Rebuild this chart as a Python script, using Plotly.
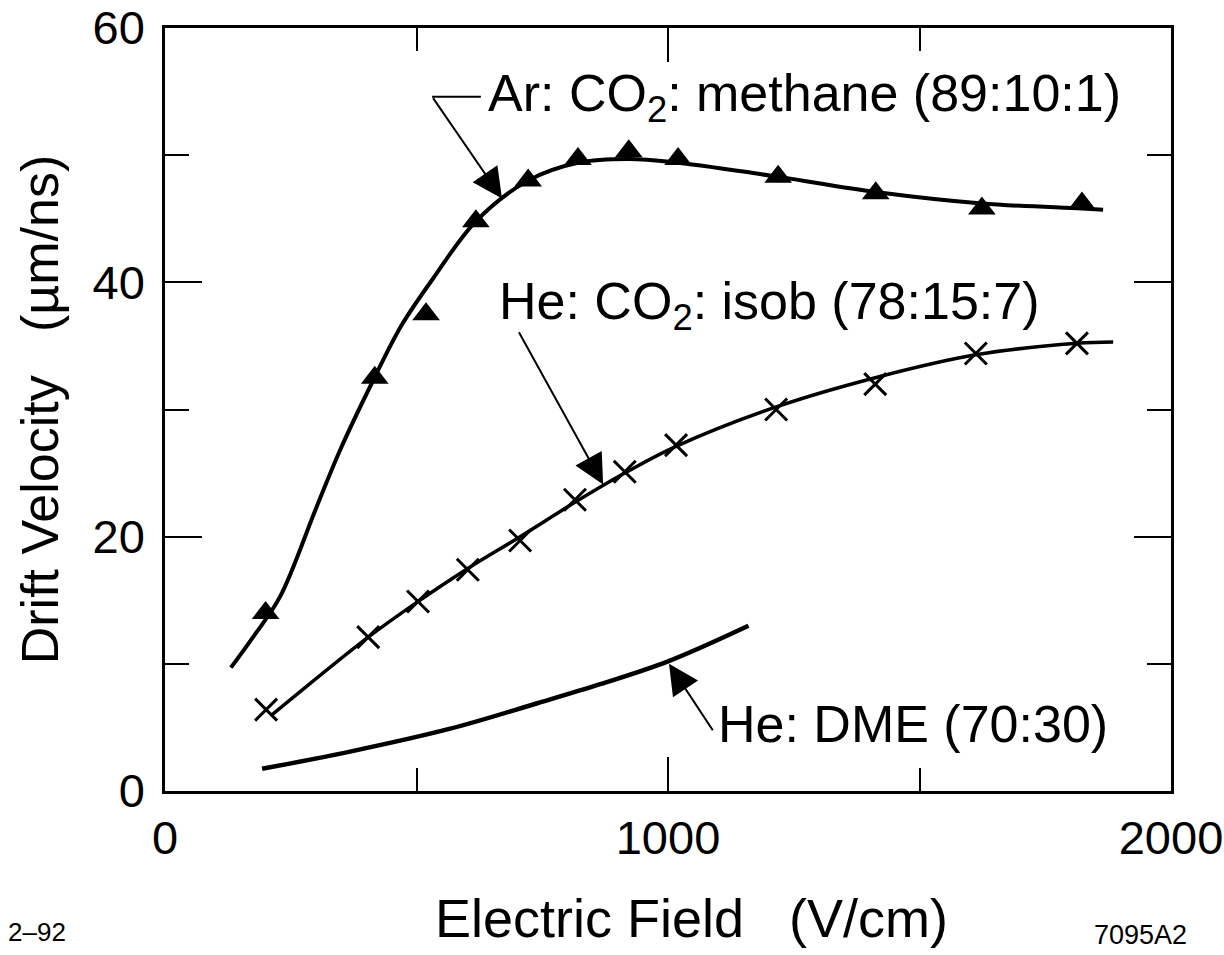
import plotly.graph_objects as go

# Ar:CO2:methane (89:10:1) — smooth curve and measured points
ar_curve_x = [131, 175, 229, 300, 348, 414, 470, 533, 618, 722, 821, 922, 1020, 1219, 1413, 1624, 1823, 1865]
ar_curve_y = [9.7, 12.1, 15.3, 22.2, 26.8, 32.3, 36.6, 40.3, 44.8, 48.0, 49.4, 49.7, 49.4, 48.3, 47.1, 46.2, 45.8, 45.7]
ar_pts_x = [200, 417, 519, 618, 722, 821, 922, 1020, 1219, 1413, 1624, 1823]
ar_pts_y = [14.0, 32.5, 37.5, 44.8, 48.0, 49.7, 50.3, 49.7, 48.3, 47.0, 45.8, 46.2]

# He:CO2:isob (78:15:7)
he_curve_x = [213, 404, 503, 602, 706, 815, 914, 1016, 1215, 1412, 1612, 1813, 1885]
he_curve_y = [6.0, 12.1, 14.9, 17.5, 20.0, 22.7, 25.0, 27.1, 30.2, 32.5, 34.3, 35.2, 35.3]
he_pts_x = [201, 404, 503, 602, 706, 815, 914, 1016, 1215, 1412, 1612, 1813]
he_pts_y = [6.4, 12.1, 14.9, 17.4, 19.7, 22.9, 25.1, 27.2, 30.0, 32.0, 34.4, 35.2]

# He:DME (70:30) — curve only
dme_x = [193, 368, 567, 740, 865, 1000, 1160]
dme_y = [1.75, 3.1, 4.9, 6.9, 8.4, 10.2, 13.0]

x_ticks = [0, 1000, 2000]
y_ticks = [0, 20, 40, 60]

FONT = "Liberation Sans, Arial, Helvetica, sans-serif"

# plot-area geometry in pixels (used only to place paper-referenced texts)
W, H = 1224, 955
L, R, T, B = 165, 53, 28, 164
PW, PH = W - L - R, H - T - B


def px_to_paper(px, py):
    return (px - L) / PW, (H - B - py) / PH


fig = go.Figure()
fig.add_trace(go.Scatter(x=ar_curve_x, y=ar_curve_y, mode="lines",
                         line=dict(color="black", width=4, shape="spline", smoothing=1.0),
                         showlegend=False, hoverinfo="skip"))
fig.add_trace(go.Scatter(x=ar_pts_x, y=ar_pts_y, mode="markers",
                         marker=dict(symbol="triangle-up", size=24, color="black"),
                         showlegend=False))
fig.add_trace(go.Scatter(x=he_curve_x, y=he_curve_y, mode="lines",
                         line=dict(color="black", width=3.5, shape="spline", smoothing=1.0),
                         showlegend=False, hoverinfo="skip"))
fig.add_trace(go.Scatter(x=he_pts_x, y=he_pts_y, mode="markers",
                         marker=dict(symbol="x-thin", size=22, color="black",
                                     line=dict(color="black", width=3)),
                         showlegend=False))
fig.add_trace(go.Scatter(x=dme_x, y=dme_y, mode="lines",
                         line=dict(color="black", width=4.5, shape="spline", smoothing=1.0),
                         showlegend=False))

axis_common = dict(showgrid=False, zeroline=False, showline=True, linecolor="black",
                   linewidth=2.5, mirror="allticks", ticks="inside", tickwidth=2,
                   tickcolor="black", tickfont=dict(family=FONT, size=47, color="black"))

fig.update_xaxes(range=[0, 2000], tickvals=x_ticks, ticklen=34,
                 minor=dict(dtick=500, ticklen=23, tickwidth=2, ticks="inside", tickcolor="black"),
                 ticklabelstandoff=4,
                 **axis_common)
fig.update_yaxes(range=[0, 60], tickvals=y_ticks, ticklen=37,
                 minor=dict(dtick=10, ticklen=24, tickwidth=2, ticks="inside", tickcolor="black"),
                 title=dict(text="Drift Velocity   (µm/ns)", font=dict(family=FONT, size=52, color="black"),
                            standoff=18),
                 ticklabelstandoff=8,
                 **axis_common)

# x-axis title placed as in the reference (slightly right of centre)
tx, ty = px_to_paper(691, 918)
fig.add_annotation(x=tx, y=ty, xref="paper", yref="paper", xanchor="center", yanchor="middle",
                   text="Electric Field   (V/cm)", showarrow=False,
                   font=dict(family=FONT, size=54, color="black"))

ann_font = dict(family=FONT, size=52, color="black")
# Ar label with bent leader
fig.add_annotation(x=638, y=54.6, xref="x", yref="y", xanchor="left", yanchor="middle",
                   text="Ar: CO<sub>2</sub>: methane (89:10:1)", showarrow=False, font=ann_font)
fig.add_shape(type="line", x0=531, y0=54.6, x1=628, y1=54.6, xref="x", yref="y",
              line=dict(color="black", width=2))
fig.add_annotation(x=670, y=46.6, ax=531, ay=54.6, xref="x", yref="y", axref="x", ayref="y",
                   text="", showarrow=True, arrowhead=2, arrowsize=3, arrowwidth=2,
                   arrowcolor="black", standoff=0, startstandoff=0)
# He:CO2:isob label
fig.add_annotation(x=660, y=38.2, xref="x", yref="y", xanchor="left", yanchor="middle",
                   text="He: CO<sub>2</sub>: isob (78:15:7)", showarrow=False, font=ann_font)
fig.add_annotation(x=871, y=24.1, ax=702, ay=36.2, xref="x", yref="y", axref="x", ayref="y",
                   text="", showarrow=True, arrowhead=2, arrowsize=3, arrowwidth=2,
                   arrowcolor="black", standoff=0, startstandoff=0)
# He:DME label
fig.add_annotation(x=1095, y=5.3, xref="x", yref="y", xanchor="left", yanchor="middle",
                   text="He: DME (70:30)", showarrow=False, font=ann_font)
fig.add_annotation(x=1002, y=10.0, ax=1091, ay=4.66, xref="x", yref="y", axref="x", ayref="y",
                   text="", showarrow=True, arrowhead=2, arrowsize=3, arrowwidth=2,
                   arrowcolor="black", standoff=0, startstandoff=0)

# figure codes in the bottom corners
cx, cy = px_to_paper(37, 932)
fig.add_annotation(x=cx, y=cy, xref="paper", yref="paper", text="2–92", showarrow=False,
                   xanchor="center", yanchor="middle",
                   font=dict(family=FONT, size=26, color="black"))
cx, cy = px_to_paper(1140, 935)
fig.add_annotation(x=cx, y=cy, xref="paper", yref="paper", text="7095A2", showarrow=False,
                   xanchor="center", yanchor="middle",
                   font=dict(family=FONT, size=27, color="black"))

fig.update_layout(width=W, height=H, paper_bgcolor="white", plot_bgcolor="white",
                  margin=dict(l=L, r=R, t=T, b=B, autoexpand=False),
                  showlegend=False)

fig.write_html("out.html")
